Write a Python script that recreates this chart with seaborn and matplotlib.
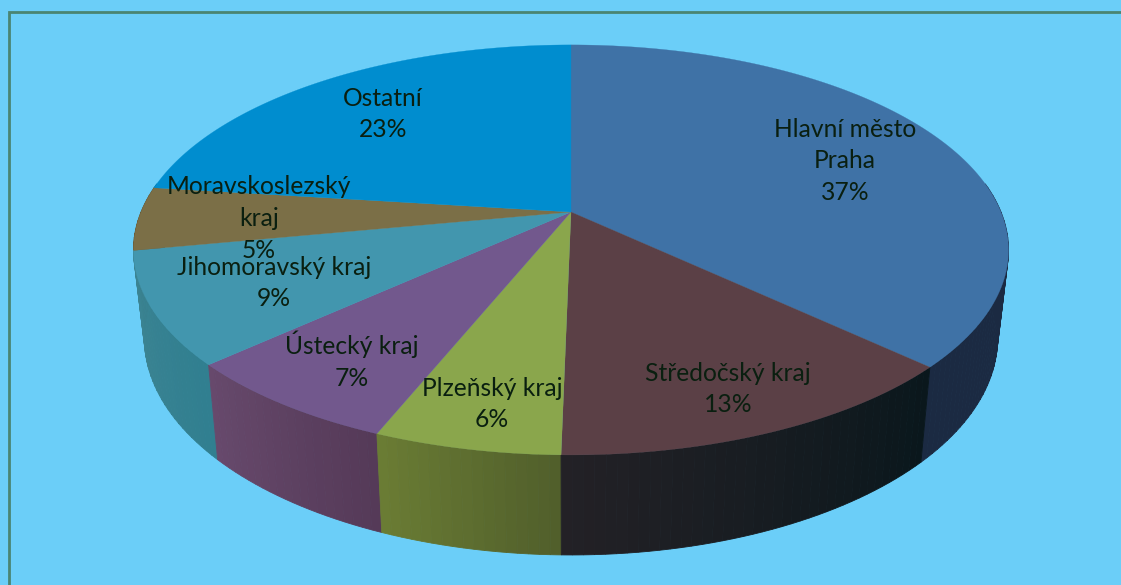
import numpy as np
import pandas as pd
import matplotlib
matplotlib.use("Agg")
import matplotlib.pyplot as plt
import seaborn as sns

categories = ["Hlavní město\nPraha", "Středočský kraj", "Plzeňský kraj", "Ústecký kraj",
              "Jihomoravský kraj", "Moravskoslezský\nkraj", "Ostatní"]
values = [37.0, 13.3, 5.8, 7.1, 8.8, 5.0, 23.0]
top_colors = ["#3f72a6", "#5b4046", "#8aa64c", "#72588d", "#4296ae", "#7b6f47", "#008dcf"]
side_start = ["#1b2a42", "#0a171c", "#515f2b", "#553a58", "#317f90", "#5c5335", "#00699b"]
side_end = ["#1b2a42", "#232126", "#6a7c34", "#67496c", "#3d8492", "#5c5335", "#00699b"]

BG = "#6bcef8"
FRAME = "#4a8572"
TEXT = "#0a1f10"

# layout in pixels
label_pos = [(845, 161), (728, 389), (492, 404), (352, 360), (274, 283), (259, 218.5), (383, 114)]
CX, CY, RX, RY, K = 571, 212, 430, 198, 0.185

sns.set_theme(style="white")
plt.rcParams["font.family"] = ["Lato", "DejaVu Sans"]

df = pd.DataFrame({"region": categories, "share": values, "top": top_colors,
                   "side0": side_start, "side1": side_end})
df["start"] = df["share"].cumsum().shift(fill_value=0) / df["share"].sum() * 2 * np.pi
df["end"] = df["share"].cumsum() / df["share"].sum() * 2 * np.pi


def top_xy(theta):
    x, y = np.sin(theta), np.cos(theta)
    s = 1 / (1 + K * y)
    return CX + RX * x * s, CY - RY * y * s


def bottom_xy(theta):
    X, Y = top_xy(theta)
    return CX + (X - CX) * 0.975, 462 + 1.057 * (Y - 367)


fig = plt.figure(figsize=(11.21, 5.85), dpi=100, facecolor=BG)
ax = fig.add_axes([0, 0, 1, 1])
ax.set_xlim(0, 1121)
ax.set_ylim(585, 0)
ax.axis("off")

# frame (top and left only are visible)
ax.plot([8.5, 8.5, 1121], [585, 11.5, 11.5], color=FRAME, lw=2.0, solid_joinstyle="miter", zorder=1)

# side walls, far to near; only the front part of the rim shows
strips = []
for _, r in df.iterrows():
    n = max(int(r["share"] * 3), 4)
    pal = sns.blend_palette([r["side0"], r["side1"]], n)
    edges = np.linspace(r["start"], r["end"], n + 1)
    for i in range(n):
        strips.append((edges[i], edges[i + 1], pal[i]))
strips = [s for s in strips if np.cos((s[0] + s[1]) / 2) < 0.15]
strips.sort(key=lambda s: -np.cos((s[0] + s[1]) / 2))
for a, b, c in strips:
    t = np.linspace(a, b, 8)
    x0, y0 = top_xy(t)
    x1, y1 = bottom_xy(t)
    ax.fill(np.r_[x0, x1[::-1]], np.r_[y0, y1[::-1]], color=c, lw=0.6, zorder=2)

# top face
for _, r in df.iterrows():
    t = np.linspace(r["start"], r["end"], 120)
    x, y = top_xy(t)
    ax.fill(np.r_[CX, x], np.r_[CY, y], facecolor=r["top"], edgecolor=r["top"], lw=0.2, zorder=3)

# labels
for (_, r), (px, py) in zip(df.iterrows(), label_pos):
    ax.text(px, py, f'{r["region"]}\n{round(r["share"])}%', ha="center", va="center",
            fontsize=17.7, color=TEXT, linespacing=1.46, zorder=5)

fig.savefig("out.png", dpi=100, facecolor=BG)
